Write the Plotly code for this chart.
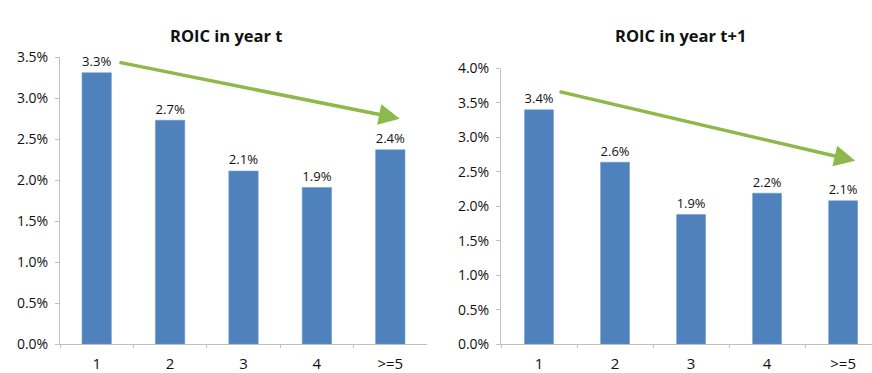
import plotly.graph_objects as go

categories = ["1", "2", "3", "4", ">=5"]
roic_year_t = [0.0331, 0.0273, 0.0211, 0.0191, 0.0237]
roic_year_t1 = [0.0340, 0.0264, 0.0188, 0.0219, 0.0208]
y_ticks_t = [0.0, 0.005, 0.010, 0.015, 0.020, 0.025, 0.030, 0.035]
y_ticks_t1 = [0.0, 0.005, 0.010, 0.015, 0.020, 0.025, 0.030, 0.035, 0.040]
titles = ["ROIC in year t", "ROIC in year t+1"]

BAR = "#4F81BD"
ARROW = "#8DB84A"
AXIS = "#BFBFBF"
TXT = "#111111"
FONT = "Open Sans"

W, H = 872, 373
fig = go.Figure()

fig.add_trace(go.Bar(
    x=categories, y=roic_year_t, xaxis="x", yaxis="y",
    marker=dict(color=BAR, line=dict(color="#6f9bd0", width=0.6)),
    width=0.4, text=roic_year_t, texttemplate="%{y:.1%}",
    textposition="outside", cliponaxis=False,
    textfont=dict(size=14, color=TXT, family=FONT), showlegend=False,
))
fig.add_trace(go.Bar(
    x=categories, y=roic_year_t1, xaxis="x2", yaxis="y2",
    marker=dict(color=BAR, line=dict(color="#6f9bd0", width=0.6)),
    width=0.38, text=roic_year_t1, texttemplate="%{y:.1%}",
    textposition="outside", cliponaxis=False,
    textfont=dict(size=14, color=TXT, family=FONT), showlegend=False,
))

xcommon = dict(
    showline=True, linecolor=AXIS, linewidth=1, ticks="outside",
    tickson="boundaries", ticklen=3, tickcolor=AXIS, showgrid=False,
    tickfont=dict(size=15, color=TXT, family=FONT), fixedrange=True,
    ticklabelstandoff=6,
)
ycommon = dict(
    showline=True, linecolor=AXIS, linewidth=1, ticks="outside",
    ticklen=4, tickcolor=AXIS, showgrid=False, zeroline=False,
    tickformat=".1%", tickfont=dict(size=14, color=TXT, family=FONT),
    fixedrange=True, ticklabelstandoff=4,
)

fig.update_layout(
    width=W, height=H,
    margin=dict(l=0, r=0, t=0, b=0),
    paper_bgcolor="white", plot_bgcolor="white",
    bargap=0.6,
    xaxis=dict(domain=[60 / W, 427 / W], anchor="y", range=[-0.5, 4.5], **xcommon),
    yaxis=dict(domain=[19 / H, 323 / H], anchor="x", range=[0, 0.035],
               tickvals=y_ticks_t, **ycommon),
    xaxis2=dict(domain=[501 / W, 1.0], anchor="y2", range=[-0.5, 4.38], **xcommon),
    yaxis2=dict(domain=[19 / H, 311 / H], anchor="x2", range=[0, 0.04],
                tickvals=y_ticks_t1, **ycommon),
)

# Panel titles
for title, cx in zip(titles, [226, 680]):
    fig.add_annotation(
        text=f"<b>{title}</b>", x=cx / W, y=1 - 27 / H, xref="paper", yref="paper",
        showarrow=False, xanchor="center", yanchor="middle",
        font=dict(size=16.5, color=TXT, family=FONT),
    )

# Downward trend arrows
fig.add_annotation(
    x=4.13, y=0.0275, ax=0.29, ay=0.0344, xref="x", yref="y", axref="x", ayref="y",
    showarrow=True, arrowhead=2, arrowsize=1.2, arrowwidth=3.5, arrowcolor=ARROW,
    text="",
)
fig.add_annotation(
    x=4.16, y=0.0266, ax=0.25, ay=0.0367, xref="x2", yref="y2", axref="x2", ayref="y2",
    showarrow=True, arrowhead=2, arrowsize=1.2, arrowwidth=3.5, arrowcolor=ARROW,
    text="",
)

fig.write_html("out.html", config=dict(displayModeBar=False))
